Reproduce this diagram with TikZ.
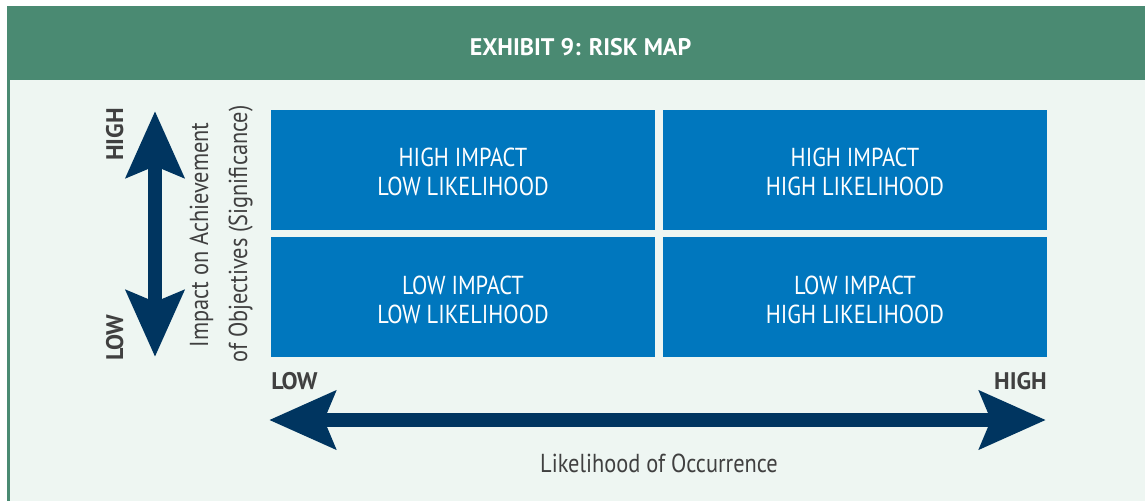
\documentclass[tikz,border=0pt]{standalone}
\usepackage{fontspec}
\setmainfont{PT Sans}
\newfontfamily\cf[FakeStretch=0.86]{PT Sans}
\newfontfamily\cfb{PT Sans Bold}
\usetikzlibrary{arrows.meta}
\definecolor{hdrgreen}{HTML}{4A8A72}
\definecolor{panelbg}{HTML}{EEF6F2}
\definecolor{boxblue}{HTML}{0077BE}
\definecolor{navy}{HTML}{003560}
\definecolor{txtgray}{HTML}{404040}
\tikzset{
  cell/.style={fill=boxblue, draw=none},
  celltext/.style={text=white, font=\cf\fontsize{26}{29}\selectfont, align=center},
  axisend/.style={text=txtgray, font=\cfb\fontsize{24}{28}\selectfont, inner sep=0pt, anchor=base},
  axistitle/.style={text=txtgray, font=\cf\fontsize{26}{29}\selectfont, inner sep=0pt, anchor=base},
  bigarrow/.style={draw=navy, line width=14pt,
     {Stealth[length=66pt,width=57pt,inset=11pt]}-{Stealth[length=66pt,width=57pt,inset=11pt]}},
}
\begin{document}
\begin{tikzpicture}[x=1pt,y=-1pt]
\useasboundingbox (0,0) rectangle (1145,501);
\fill[white] (0,0) rectangle (1145,501);
% panel
\fill[panelbg] (7,80) rectangle (1145,501);
\fill[hdrgreen] (7,80) rectangle (10,501);
% header
\fill[hdrgreen] (7,6) rectangle (1145,80);
\node[text=white, font=\cfb\fontsize{24}{28}\selectfont, inner sep=0pt, anchor=base] (title) at (580.5,55) {EXHIBIT 9: RISK MAP};
% cells
\fill[cell] (271,110) rectangle (655,230);
\fill[cell] (663,110) rectangle (1047,230);
\fill[cell] (271,237) rectangle (655,357);
\fill[cell] (663,237) rectangle (1047,357);
\node[celltext] (tl) at (463,172) {HIGH IMPACT\\LOW LIKELIHOOD};
\node[celltext] (tr) at (855,172) {HIGH IMPACT\\HIGH LIKELIHOOD};
\node[celltext] (bl) at (463,300) {LOW IMPACT\\LOW LIKELIHOOD};
\node[celltext] (br) at (855,300) {LOW IMPACT\\HIGH LIKELIHOOD};
% vertical arrow
\coordinate (vtop) at (155,111);
\coordinate (vbot) at (155,357);
\draw[bigarrow] (vbot) -- (vtop);
% horizontal arrow
\coordinate (hleft) at (269,420);
\coordinate (hright) at (1046,420);
\draw[bigarrow] (hleft) -- (hright);
% axis end labels
\node[axisend, rotate=90] (vhigh) at (123,134.5) {HIGH};
\node[axisend, rotate=90] (vlow) at (123,337.5) {LOW};
\node[axisend] (hlow) at (294.5,389) {LOW};
\node[axisend] (hhigh) at (1020.5,389) {HIGH};
% axis titles
\node[axistitle, rotate=90] (vt1) at (208,235) {Impact on Achievement};
\node[axistitle, rotate=90] (vt2) at (247,234) {of Objectives (Significance)};
\node[axistitle] (ht) at (659,472) {Likelihood of Occurrence};
\end{tikzpicture}
\end{document}
